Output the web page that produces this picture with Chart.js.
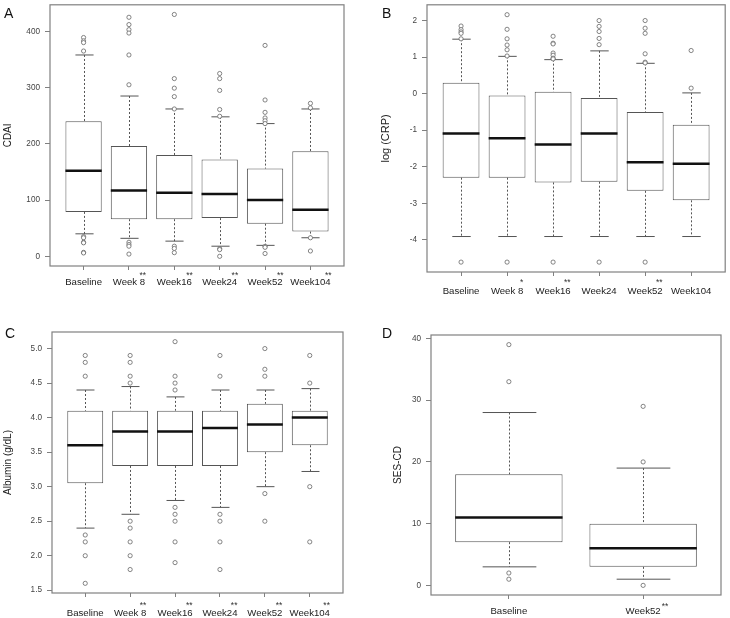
<!DOCTYPE html>
<html>
<head>
<meta charset="utf-8">
<script src="https://cdn.jsdelivr.net/npm/chart.js@4.4.1/dist/chart.umd.min.js"></script>
<style>
  body { margin: 0; background: #fff; width: 730px; height: 618px; position: relative; overflow: hidden; }
  canvas { position: absolute; }
</style>
</head>
<body>
<canvas id="cA" width="365" height="300" style="left:0;top:0"></canvas>
<canvas id="cB" width="365" height="300" style="left:365px;top:0"></canvas>
<canvas id="cC" width="365" height="318" style="left:0;top:300px"></canvas>
<canvas id="cD" width="365" height="318" style="left:365px;top:300px"></canvas>
<script>
const FONT = "'Liberation Sans', Arial, Helvetica, sans-serif"

const weeks = ['Baseline', 'Week 8', 'Week16', 'Week24', 'Week52', 'Week104']

// A: CDAI
const starsA = ['', '**', '**', '**', '**', '**']
const lowA = [40, 32, 27, 18, 19.5, 33]
const q1A = [79, 66, 66, 68, 58, 44]
const medA = [152, 117, 113, 111, 100, 83]
const q3A = [240, 196, 180, 172, 156, 187]
const highA = [358, 285, 262, 248, 236, 262]
const outA = [
  [389, 383, 380, 365, 35, 33, 25, 24, 7, 6],
  [425, 412, 403, 397, 358, 305, 25, 21, 18, 4],
  [430, 316, 299, 284, 262, 18, 14, 6.5],
  [325, 316, 295, 261, 249, 13.5, 12, 0],
  [375, 278, 256, 246, 241, 236, 17.7, 16, 5],
  [272, 264, 33, 9.5]
]
const ticksA = [0, 100, 200, 300, 400]

// B: log(CRP)
const starsB = ['', '*', '**', '', '**', '']
const lowB = [-3.91, -3.91, -3.91, -3.91, -3.91, -3.91]
const q1B = [-2.3, -2.3, -2.43, -2.41, -2.66, -2.92]
const medB = [-1.09, -1.22, -1.39, -1.09, -1.88, -1.92]
const q3B = [0.3, -0.05, 0.05, -0.12, -0.5, -0.85]
const highB = [1.49, 1.02, 0.93, 1.17, 0.83, 0.02]
const outB = [
  [1.85, 1.75, 1.69, 1.65, 1.5, -4.61],
  [2.16, 1.76, 1.5, 1.33, 1.2, 1.03, -4.61],
  [1.57, 1.38, 1.36, 1.11, 1.05, 0.97, 0.95, -4.61],
  [2.0, 1.84, 1.7, 1.51, 1.34, -4.61],
  [2.0, 1.79, 1.65, 1.09, 0.86, 0.84, -4.61],
  [1.18, 0.15]
]
const ticksB = [-4, -3, -2, -1, 0, 1, 2]

// C: Albumin
const starsC = ['', '**', '**', '**', '**', '**']
const lowC = [2.4, 2.6, 2.8, 2.7, 3.0, 3.22]
const q1C = [3.05, 3.3, 3.3, 3.3, 3.5, 3.6]
const medC = [3.6, 3.8, 3.8, 3.85, 3.9, 4.0]
const q3C = [4.1, 4.1, 4.1, 4.1, 4.2, 4.1]
const highC = [4.4, 4.45, 4.3, 4.4, 4.4, 4.42]
const outC = [
  [4.9, 4.8, 4.6, 2.3, 2.2, 2.0, 1.6],
  [4.9, 4.8, 4.6, 4.5, 2.5, 2.4, 2.2, 2.0, 1.8],
  [5.1, 4.6, 4.5, 4.4, 2.7, 2.6, 2.5, 2.2, 1.9],
  [4.9, 4.6, 2.6, 2.5, 2.2, 1.8],
  [5.0, 4.7, 4.6, 2.9, 2.5],
  [4.9, 4.5, 3.0, 2.2]
]
const ticksC = [1.5, 2.0, 2.5, 3.0, 3.5, 4.0, 4.5, 5.0]

// D: SES-CD
const catsD = ['Baseline', 'Week52']
const starsD = ['', '**']
const lowD = [3, 1]
const q1D = [7, 3]
const medD = [11, 6]
const q3D = [18, 10]
const highD = [28, 19]
const outD = [[39, 33, 2, 1], [29, 20, 0]]
const ticksD = [0, 10, 20, 30, 40]

function boxParts(p) {
  return {
    id: 'boxParts',
    beforeDatasetsDraw(chart) {
      const { ctx, scales: { x, y } } = chart
      const bars = chart.getDatasetMeta(0).data
      ctx.save()
      ctx.strokeStyle = '#555'
      ctx.lineWidth = 1
      p.low.forEach((lo, i) => {
        const cx = Math.round(x.getPixelForValue(i + 1)) + 0.5
        const half = bars[i].width / 4
        ctx.setLineDash([2, 2])
        ctx.beginPath()
        ctx.moveTo(cx, y.getPixelForValue(p.high[i]))
        ctx.lineTo(cx, y.getPixelForValue(p.q3[i]))
        ctx.moveTo(cx, y.getPixelForValue(p.q1[i]))
        ctx.lineTo(cx, y.getPixelForValue(lo))
        ctx.stroke()
        ctx.setLineDash([])
        ctx.beginPath()
        ctx.moveTo(cx - half, y.getPixelForValue(p.high[i]))
        ctx.lineTo(cx + half, y.getPixelForValue(p.high[i]))
        ctx.moveTo(cx - half, y.getPixelForValue(lo))
        ctx.lineTo(cx + half, y.getPixelForValue(lo))
        ctx.stroke()
      })
      ctx.restore()
    },
    afterDatasetsDraw(chart) {
      const { ctx, scales: { x, y } } = chart
      const bars = chart.getDatasetMeta(0).data
      ctx.save()
      ctx.strokeStyle = '#111'
      ctx.lineWidth = 2.5
      p.med.forEach((m, i) => {
        const cx = x.getPixelForValue(i + 1)
        const w = bars[i].width / 2
        ctx.beginPath()
        ctx.moveTo(cx - w, y.getPixelForValue(m))
        ctx.lineTo(cx + w, y.getPixelForValue(m))
        ctx.stroke()
      })
      ctx.restore()
    },
    afterDraw(chart) {
      const { ctx, chartArea: a, scales: { x } } = chart
      ctx.save()
      ctx.strokeStyle = '#808080'
      ctx.lineWidth = 1.2
      ctx.strokeRect(a.left, a.top, a.right - a.left, a.bottom - a.top)

      ctx.fillStyle = '#111'
      ctx.font = '14px ' + FONT
      ctx.textBaseline = 'alphabetic'
      ctx.textAlign = 'left'
      ctx.fillText(p.letter, p.letterX, p.letterY)

      // significance marks next to the tick labels
      ctx.font = '9.6px ' + FONT
      const widths = p.cats.map(c => ctx.measureText(c).width)
      ctx.font = '8.5px ' + FONT
      ctx.fillStyle = '#333'
      ctx.textAlign = p.starAlign
      p.stars.forEach((s, i) => {
        if (!s) return
        const end = x.getPixelForValue(i + 1) + widths[i] / 2
        ctx.fillText(s, end + p.starDx, a.bottom + p.starDy)
      })
      ctx.restore()
    }
  }
}

function panel(id, cfg) {
  const canvas = document.getElementById(id)
  const W = canvas.width
  const H = canvas.height
  const n = cfg.cats.length
  const all = cfg.low.concat(cfg.high, cfg.out.flat())
  const lo = Math.min(...all)
  const hi = Math.max(...all)
  const pad = (hi - lo) * 0.04

  const boxes = cfg.q1.map((v, i) => ({ x: i + 1, y: [v, cfg.q3[i]] }))
  const points = []
  cfg.out.forEach((list, i) => list.forEach(v => points.push({ x: i + 1, y: v })))

  new Chart(canvas, {
    type: 'bar',
    data: {
      datasets: [
        {
          type: 'bar',
          data: boxes,
          backgroundColor: '#fff',
          borderColor: '#555',
          borderWidth: 1,
          borderSkipped: false,
          barPercentage: 0.8,
          categoryPercentage: 1,
          order: 2
        },
        {
          type: 'scatter',
          data: points,
          pointRadius: 2.1,
          pointBorderWidth: 0.8,
          borderColor: '#666',
          backgroundColor: '#fff',
          order: 1
        }
      ]
    },
    options: {
      responsive: false,
      animation: false,
      events: [],
      layout: { padding: { left: 0, top: cfg.area.t, right: W - cfg.area.r, bottom: 0 } },
      plugins: { legend: { display: false }, tooltip: { enabled: false } },
      scales: {
        x: {
          type: 'linear',
          offset: false,
          min: 0.5 - 0.04 * n,
          max: n + 0.5 + 0.04 * n,
          bounds: 'data',
          afterBuildTicks: s => { s.ticks = cfg.cats.map((c, i) => ({ value: i + 1 })) },
          afterFit: s => { s.height = H - cfg.area.b; s.paddingLeft = 0; s.paddingRight = 0 },
          grid: { offset: false, drawOnChartArea: false, tickLength: 4, color: '#808080' },
          border: { display: false },
          ticks: {
            callback: v => cfg.cats[v - 1],
            font: { family: FONT, size: 9.6 },
            color: '#222',
            padding: cfg.xPad,
            maxRotation: 0,
            autoSkip: false
          }
        },
        y: {
          type: 'linear',
          min: lo - pad,
          max: hi + pad,
          bounds: 'data',
          afterBuildTicks: s => { s.ticks = cfg.yTicks.map(v => ({ value: v })) },
          afterFit: s => { s.width = cfg.area.l; s.paddingTop = 0; s.paddingBottom = 0 },
          grid: { drawOnChartArea: false, tickLength: 5, color: '#808080' },
          border: { display: false },
          ticks: {
            callback: cfg.fmt,
            font: { family: FONT, size: 8.2 },
            color: '#444',
            padding: 5
          },
          title: {
            display: true,
            text: cfg.yTitle,
            font: { family: FONT, size: cfg.titleSize },
            color: '#222',
            padding: { top: cfg.titlePad, bottom: 0 }
          }
        }
      }
    },
    plugins: [boxParts({
      cats: cfg.cats, low: cfg.low, q1: cfg.q1, med: cfg.med, q3: cfg.q3, high: cfg.high,
      stars: cfg.stars, starDx: cfg.starDx, starDy: cfg.starDy, starAlign: cfg.starAlign,
      letter: cfg.letter, letterX: cfg.letterX, letterY: cfg.letterY
    })]
  })
}

panel('cA', {
  cats: weeks, stars: starsA, low: lowA, q1: q1A, med: medA, q3: q3A, high: highA, out: outA,
  yTicks: ticksA, fmt: v => v, yTitle: 'CDAI', titleSize: 10, titlePad: 2,
  area: { l: 50, r: 344, t: 3, b: 266 }, xPad: 7,
  starDx: 1, starDy: 12, starAlign: 'right',
  letter: 'A', letterX: 4, letterY: 18
})

panel('cB', {
  cats: weeks, stars: starsB, low: lowB, q1: q1B, med: medB, q3: q3B, high: highB, out: outB,
  yTicks: ticksB, fmt: v => v, yTitle: 'log (CRP)', titleSize: 11, titlePad: 14,
  area: { l: 62, r: 362, t: 3, b: 272 }, xPad: 10,
  starDx: 0, starDy: 13, starAlign: 'right',
  letter: 'B', letterX: 17, letterY: 18
})

panel('cC', {
  cats: weeks, stars: starsC, low: lowC, q1: q1C, med: medC, q3: q3C, high: highC, out: outC,
  yTicks: ticksC, fmt: v => v.toFixed(1), yTitle: 'Albumin (g/dL)', titleSize: 10, titlePad: 2,
  area: { l: 52, r: 343, t: 32, b: 293 }, xPad: 10.5,
  starDx: 0, starDy: 14.5, starAlign: 'right',
  letter: 'C', letterX: 5, letterY: 38
})

panel('cD', {
  cats: catsD, stars: starsD, low: lowD, q1: q1D, med: medD, q3: q3D, high: highD, out: outD,
  yTicks: ticksD, fmt: v => v, yTitle: 'SES-CD', titleSize: 10, titlePad: 27,
  area: { l: 66, r: 356, t: 35, b: 295 }, xPad: 7,
  starDx: 1, starDy: 13.5, starAlign: 'left',
  letter: 'D', letterX: 17, letterY: 38
})
</script>
</body>
</html>
